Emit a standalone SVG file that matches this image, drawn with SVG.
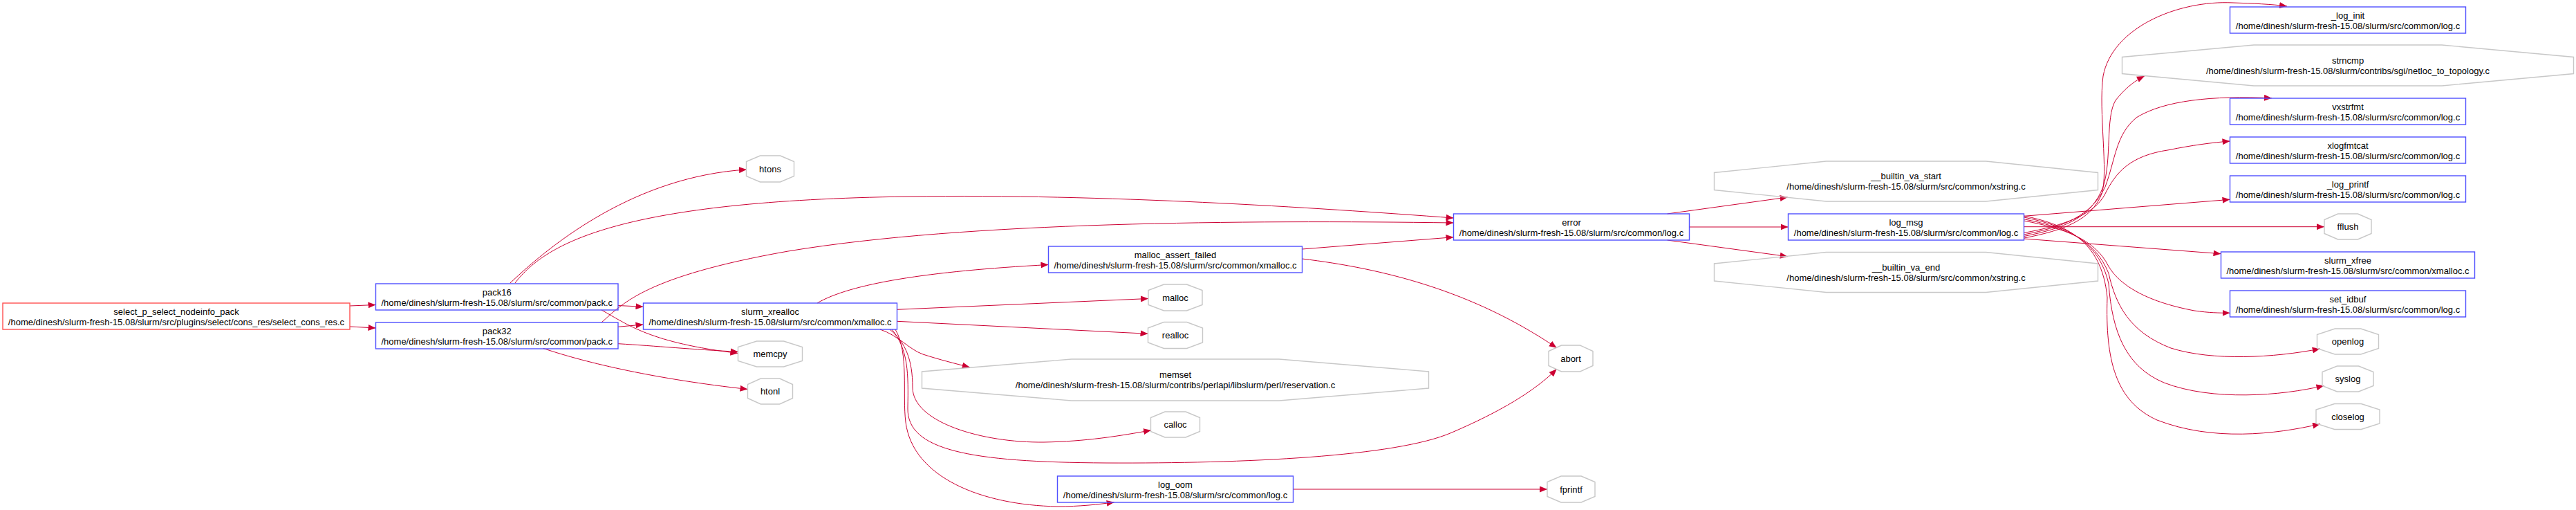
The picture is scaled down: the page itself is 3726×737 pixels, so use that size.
<svg xmlns="http://www.w3.org/2000/svg" width="3726" height="737" viewBox="0 0 3726 737">
<defs>
<style>
text{font-family:"Liberation Sans",Arial,sans-serif;font-size:13px;fill:#000;text-anchor:middle}
.box{fill:none;stroke:#5050ff;stroke-width:1.4}
.root{fill:none;stroke:#ff5050;stroke-width:1.4}
.oct{fill:none;stroke:#c8c8c8;stroke-width:1.4}
.e{fill:none;stroke:#cc0033;stroke-width:1;marker-end:url(#arr)}
</style>
<marker id="arr" markerUnits="userSpaceOnUse" markerWidth="12" markerHeight="9" refX="11" refY="4.5" orient="auto" viewBox="0 0 12 9">
<path d="M0,0 L11,4.5 L0,9 z" fill="#cc0033"/>
</marker>
</defs>
<rect width="3726" height="737" fill="#fff"/>
<g id="edges">
<path class="e" d="M506,442 L543.5,440.5"/>
<path class="e" d="M506,472 L543.5,474"/>
<path class="e" d="M738,409 C800,350 920,255 1080,245"/>
<path class="e" d="M745,409 C790,350 900,290 1314,284 C1600,280 1900,300 2102.5,315"/>
<path class="e" d="M894,441.5 L930.5,443.3"/>
<path class="e" d="M870,448 C910,470 940,495 1067.5,510.5"/>
<path class="e" d="M894,472.3 L930.5,469"/>
<path class="e" d="M870,466 C900,440 930,400 1140,363 C1400,320 1800,318 2102.5,322"/>
<path class="e" d="M894,496.7 C950,500 1000,505 1067.5,508.3"/>
<path class="e" d="M786,503.5 C850,525 950,548 1081.5,562.5"/>
<path class="e" d="M1182,438 C1230,410 1340,392 1516.5,382.5"/>
<path class="e" d="M1297.5,447.3 L1661,431.5"/>
<path class="e" d="M1297.5,464.3 L1660.5,482.3"/>
<path class="e" d="M1273,476 C1300,485 1315,505 1335,512 C1360,520 1380,525 1402.7,530.7"/>
<path class="e" d="M1287,476 C1310,495 1320,520 1320,560 C1320,610 1420,640 1510,639 C1570,638 1620,630 1665,621.7"/>
<path class="e" d="M1290,476 C1314,505 1314,540 1313,590 C1312,650 1400,668 1600,669 C1800,670 2020,660 2100,625 C2170,595 2220,565 2251.7,533.3"/>
<path class="e" d="M1295,476 C1315,510 1305,570 1310,610 C1320,690 1420,730 1530,732 C1560,732 1590,729 1611.7,725.7"/>
<path class="e" d="M1883.5,360 L2102.5,342.7"/>
<path class="e" d="M1883.5,374 C2000,388 2130,420 2251.7,502.7"/>
<path class="e" d="M1870.5,707 L2238,707"/>
<path class="e" d="M2411.6,309 L2585.7,285"/>
<path class="e" d="M2443.5,328 L2586.5,328"/>
<path class="e" d="M2411.6,347 L2585.7,370.7"/>
<path class="e" d="M2927.5,344 C2985,333 3025,318 3040,280 C3050,250 3035,160 3042,110 C3055,40 3150,0 3230,4 C3260,5 3285,6 3308,9"/>
<path class="e" d="M2927.5,341.5 C2985,330 3025,315 3042,270 C3055,230 3045,170 3060,145 C3072,130 3085,118 3101.8,110"/>
<path class="e" d="M2927.5,339 C2985,328 3025,312 3045,270 C3060,230 3060,195 3090,170 C3130,145 3200,138 3286,141.7"/>
<path class="e" d="M2927.5,336.5 C2985,326 3030,310 3045,280 C3060,250 3080,225 3137,216.7 C3170,210 3200,206 3225.5,204"/>
<path class="e" d="M2927.5,312.3 L3225.5,288.3"/>
<path class="e" d="M2927.5,327.7 L3362,327.7"/>
<path class="e" d="M2927.5,345 L3212.5,366.7"/>
<path class="e" d="M2927.5,319 C2985,330 3030,345 3050,385 C3065,410 3100,435 3174,449 C3195,452 3210,452.3 3225.5,452.3"/>
<path class="e" d="M2927.5,316.7 C2985,328 3030,345 3050,395 C3060,440 3080,480 3140,503 C3200,522 3290,517 3355.7,504"/>
<path class="e" d="M2927.5,314 C2985,326 3035,345 3050,410 C3055,480 3075,530 3130,553 C3200,580 3300,572 3361.5,557.3"/>
<path class="e" d="M2927.5,312 C2985,324 3040,345 3048,430 C3045,520 3060,580 3120,607 C3200,638 3290,628 3356,612.7"/>
</g>
<g id="select_p_select_nodeinfo_pack"><rect class="root" x="4" y="438" width="502" height="38"/><text x="255" y="454.5">select_p_select_nodeinfo_pack</text><text x="255" y="469.5">/home/dinesh/slurm-fresh-15.08/slurm/src/plugins/select/cons_res/select_cons_res.c</text></g>
<g id="pack16"><rect class="box" x="543.5" y="410" width="350.5" height="38"/><text x="718.75" y="426.5">pack16</text><text x="718.75" y="441.5">/home/dinesh/slurm-fresh-15.08/slurm/src/common/pack.c</text></g>
<g id="pack32"><rect class="box" x="543.5" y="466" width="350.5" height="38"/><text x="718.75" y="482.5">pack32</text><text x="718.75" y="497.5">/home/dinesh/slurm-fresh-15.08/slurm/src/common/pack.c</text></g>
<g id="htons"><polygon class="oct" points="1128.5,225 1148.5,233.5 1148.5,254.5 1128.5,263 1099.5,263 1079.5,254.5 1079.5,233.5 1099.5,225"/><text x="1114" y="248.5">htons</text></g>
<g id="slurm_xrealloc"><rect class="box" x="930.5" y="438" width="367" height="38"/><text x="1114" y="454.5">slurm_xrealloc</text><text x="1114" y="469.5">/home/dinesh/slurm-fresh-15.08/slurm/src/common/xmalloc.c</text></g>
<g id="memcpy"><polygon class="oct" points="1133.5,493 1160.5,501.5 1160.5,521.5 1133.5,530 1094.5,530 1067.5,521.5 1067.5,501.5 1094.5,493"/><text x="1114" y="516">memcpy</text></g>
<g id="htonl"><polygon class="oct" points="1127.7,547 1146.5,555.5 1146.5,575.5 1127.7,584 1100.3,584 1081.5,575.5 1081.5,555.5 1100.3,547"/><text x="1114" y="570">htonl</text></g>
<g id="malloc_assert_failed"><rect class="box" x="1516.5" y="356" width="367" height="38"/><text x="1700" y="372.5">malloc_assert_failed</text><text x="1700" y="387.5">/home/dinesh/slurm-fresh-15.08/slurm/src/common/xmalloc.c</text></g>
<g id="malloc"><polygon class="oct" points="1716.4,411 1739,419.5 1739,440.5 1716.4,449 1683.6,449 1661,440.5 1661,419.5 1683.6,411"/><text x="1700" y="434.5">malloc</text></g>
<g id="realloc"><polygon class="oct" points="1716.6,465.5 1739.5,474 1739.5,495 1716.6,503.5 1683.4,503.5 1660.5,495 1660.5,474 1683.4,465.5"/><text x="1700" y="489">realloc</text></g>
<g id="memset"><polygon class="oct" points="1850,519 2066.5,537 2066.5,561 1850,579 1550,579 1333.5,561 1333.5,537 1550,519"/><text x="1700" y="546">memset</text><text x="1700" y="561">/home/dinesh/slurm-fresh-15.08/slurm/contribs/perlapi/libslurm/perl/reservation.c</text></g>
<g id="calloc"><polygon class="oct" points="1715,595 1735.5,603.5 1735.5,623.5 1715,632 1685,632 1664.5,623.5 1664.5,603.5 1685,595"/><text x="1700" y="618">calloc</text></g>
<g id="log_oom"><rect class="box" x="1529.5" y="688" width="341" height="38"/><text x="1700" y="704.5">log_oom</text><text x="1700" y="719.5">/home/dinesh/slurm-fresh-15.08/slurm/src/common/log.c</text></g>
<g id="error"><rect class="box" x="2102.5" y="309" width="341" height="38"/><text x="2273" y="325.5">error</text><text x="2273" y="340.5">/home/dinesh/slurm-fresh-15.08/slurm/src/common/log.c</text></g>
<g id="abort"><polygon class="oct" points="2285.5,499 2304,507.5 2304,528.5 2285.5,537 2258.5,537 2240,528.5 2240,507.5 2258.5,499"/><text x="2272" y="522.5">abort</text></g>
<g id="fprintf"><polygon class="oct" points="2287,688 2307,696.5 2307,717.5 2287,726 2258,726 2238,717.5 2238,696.5 2258,688"/><text x="2272.5" y="711.5">fprintf</text></g>
<g id="__builtin_va_start"><polygon class="oct" points="2872.5,233 3034.5,249.5 3034.5,274.5 2872.5,291 2641.5,291 2479.5,274.5 2479.5,249.5 2641.5,233"/><text x="2757" y="259">__builtin_va_start</text><text x="2757" y="274">/home/dinesh/slurm-fresh-15.08/slurm/src/common/xstring.c</text></g>
<g id="log_msg"><rect class="box" x="2586.5" y="309" width="341" height="38"/><text x="2757" y="325.5">log_msg</text><text x="2757" y="340.5">/home/dinesh/slurm-fresh-15.08/slurm/src/common/log.c</text></g>
<g id="__builtin_va_end"><polygon class="oct" points="2872.5,364.5 3034.5,381 3034.5,406 2872.5,422.5 2641.5,422.5 2479.5,406 2479.5,381 2641.5,364.5"/><text x="2757" y="390.5">__builtin_va_end</text><text x="2757" y="405.5">/home/dinesh/slurm-fresh-15.08/slurm/src/common/xstring.c</text></g>
<g id="_log_init"><rect class="box" x="3225.5" y="10" width="341" height="38"/><text x="3396" y="26.5">_log_init</text><text x="3396" y="41.5">/home/dinesh/slurm-fresh-15.08/slurm/src/common/log.c</text></g>
<g id="strncmp"><polygon class="oct" points="3532,65 3722.5,82.5 3722.5,106.5 3532,124 3260,124 3069.5,106.5 3069.5,82.5 3260,65"/><text x="3396" y="91.5">strncmp</text><text x="3396" y="106.5">/home/dinesh/slurm-fresh-15.08/slurm/contribs/sgi/netloc_to_topology.c</text></g>
<g id="vxstrfmt"><rect class="box" x="3225.5" y="142" width="341" height="38"/><text x="3396" y="158.5">vxstrfmt</text><text x="3396" y="173.5">/home/dinesh/slurm-fresh-15.08/slurm/src/common/log.c</text></g>
<g id="xlogfmtcat"><rect class="box" x="3225.5" y="198" width="341" height="38"/><text x="3396" y="214.5">xlogfmtcat</text><text x="3396" y="229.5">/home/dinesh/slurm-fresh-15.08/slurm/src/common/log.c</text></g>
<g id="_log_printf"><rect class="box" x="3225.5" y="254" width="341" height="38"/><text x="3396" y="270.5">_log_printf</text><text x="3396" y="285.5">/home/dinesh/slurm-fresh-15.08/slurm/src/common/log.c</text></g>
<g id="fflush"><polygon class="oct" points="3410.3,309 3430,317.5 3430,337.5 3410.3,346 3381.7,346 3362,337.5 3362,317.5 3381.7,309"/><text x="3396" y="332">fflush</text></g>
<g id="slurm_xfree"><rect class="box" x="3212.5" y="364" width="367" height="38"/><text x="3396" y="380.5">slurm_xfree</text><text x="3396" y="395.5">/home/dinesh/slurm-fresh-15.08/slurm/src/common/xmalloc.c</text></g>
<g id="set_idbuf"><rect class="box" x="3225.5" y="420" width="341" height="38"/><text x="3396" y="436.5">set_idbuf</text><text x="3396" y="451.5">/home/dinesh/slurm-fresh-15.08/slurm/src/common/log.c</text></g>
<g id="openlog"><polygon class="oct" points="3414.7,475 3440.5,483.5 3440.5,503.5 3414.7,512 3377.3,512 3351.5,503.5 3351.5,483.5 3377.3,475"/><text x="3396" y="498">openlog</text></g>
<g id="syslog"><polygon class="oct" points="3411.5,529 3433,537.5 3433,557.5 3411.5,566 3380.5,566 3359,557.5 3359,537.5 3380.5,529"/><text x="3396" y="552">syslog</text></g>
<g id="closelog"><polygon class="oct" points="3415.3,583.5 3442,592 3442,612 3415.3,620.5 3376.7,620.5 3350,612 3350,592 3376.7,583.5"/><text x="3396" y="606.5">closelog</text></g>
</svg>
